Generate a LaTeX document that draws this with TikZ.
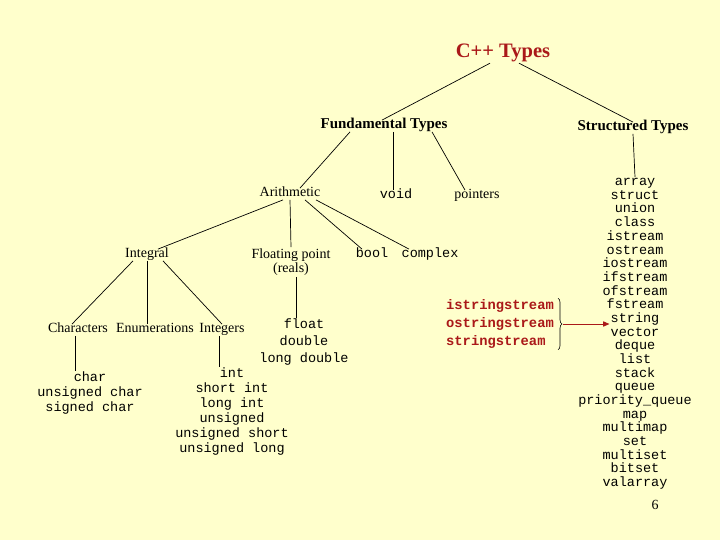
\documentclass[tikz,border=0pt]{standalone}
\usepackage{fontspec}
\setmainfont{Liberation Serif}
\setmonofont{Liberation Mono}
\usepackage{xcolor}
\usepackage{tikz}
\usetikzlibrary{arrows.meta,positioning,calc,decorations.pathreplacing}
\definecolor{ctbg}{RGB}{255,255,204}
\definecolor{ctred}{RGB}{170,25,25}
\tikzset{
  ctnode/.style={
    inner sep=1pt,
    align=center
  },
  ctone/.style={text height=1.6ex, text depth=0.45ex},
  cttitle/.style={ctnode, text=ctred, font=\fontsize{20.5}{22}\selectfont\bfseries},
  cthead/.style={ctnode, ctone, font=\fontsize{15}{17}\selectfont\bfseries},
  ctlabel/.style={ctnode, font=\fontsize{14}{14.5}\selectfont},
  ctcode/.style={ctnode, font=\fontsize{13.5}{15}\selectfont\ttfamily},
  ctstream/.style={ctnode, align=left, text=ctred, font=\fontsize{13.8}{18}\selectfont\ttfamily\bfseries},
  ctline/.style={line width=0.7pt, draw=black},
  ctarrow/.style={-{Triangle[length=2.2mm,width=1.8mm]}, line width=1pt, draw=ctred},
  ctbrace/.style={decorate, decoration={brace, amplitude=4pt}, line width=0.6pt, draw=black}
}
\begin{document}
\begin{tikzpicture}[x=1pt, y=-1pt]
\fill[ctbg] (0,0) rectangle (720,540);
\useasboundingbox (0,0) rectangle (720,540);
% top levels
\node[cttitle] (cpp) at (503,53) {C++ Types};
\node[cthead] (fund) at (384,126) {Fundamental Types};
\node[cthead] (struct) at (633,128) {Structured Types};
% fundamental
\node[ctlabel, ctone] (arith) at (290,194) {Arithmetic};
\node[ctcode, ctone] (void) at (396,196) {void};
\node[ctlabel, ctone] (ptr) at (477,196) {pointers};
\node[ctlabel, ctone] (integral) at (147,255) {Integral};
\node[ctlabel] (float) at (291,262) {Floating point\\(reals)};
\node[ctcode, ctone] (bool) at (372,255) {bool};
\node[ctcode, ctone] (cmplx) at (430,255) {complex};
\node[ctlabel, ctone] (chars) at (78,330) {Characters};
\node[ctlabel, ctone] (enums) at (155,330) {Enumerations};
\node[ctlabel, ctone] (ints) at (222,330) {Integers};
\node[ctcode, font=\fontsize{13.5}{17}\selectfont\ttfamily] (floatlist) at (304,342) {float\\double\\long double};
\node[ctcode] (charlist) at (90,393) {char\\unsigned char\\signed char};
\node[ctcode] (intlist) at (232,411.5) {int\\short int\\long int\\unsigned\\unsigned short\\unsigned long};
% structured
\foreach \t [count=\i] in {array,struct,union,class,istream,ostream,iostream,ifstream,ofstream,fstream,string,vector,deque,list,stack,queue,priority\_queue,map,multimap,set,multiset,bitset,valarray}
  \node[ctcode, ctone] (s\i) at (635,{183+13.68*(\i-1)}) {\t};
\node[ctstream] (sstream) at (500,324) {istringstream\\ostringstream\\stringstream};
\node[ctlabel] (page) at (655,505) {6};
% connectors
\draw[ctline] ([xshift=-13pt]cpp.south) -- ([xshift=-2pt]fund.north);
\draw[ctline] ([xshift=16pt]cpp.south) -- (struct.north);
\draw[ctline] ([xshift=-34pt]fund.south) -- ([xshift=10pt]arith.north);
\draw[ctline] ([xshift=-3pt]void.north |- fund.south) -- ([xshift=-3pt]void.north);
\draw[ctline] ([xshift=48pt]fund.south) -- ([xshift=-12pt]ptr.north);
\draw[ctline] (struct.south) -- (s1.north);
\draw[ctline] ([xshift=-7pt]arith.south) -- ([xshift=11pt]integral.north);
\draw[ctline] (arith.south) -- (float.north);
\draw[ctline] ([xshift=15pt]arith.south) -- ([xshift=-10pt]bool.north);
\draw[ctline] ([xshift=26pt]arith.south) -- ([xshift=-21pt]cmplx.north);
\draw[ctline] ([xshift=-14pt]integral.south) -- ([xshift=-6pt]chars.north);
\draw[ctline] (integral.south) -- (integral.south |- enums.north);
\draw[ctline] ([xshift=16pt]integral.south) -- (ints.north);
\draw[ctline] ([xshift=5pt]float.south) -- ([xshift=-8pt]floatlist.north);
\draw[ctline] ([xshift=-3pt]chars.south) -- ([xshift=-3pt]chars.south |- charlist.north);
\draw[ctline] ([xshift=-3pt]ints.south) -- ([xshift=-3pt]ints.south |- intlist.north);
\draw[ctbrace] ([xshift=3pt]sstream.north east) -- ([xshift=3pt]sstream.south east);
\coordinate (brtip) at ([xshift=8pt]sstream.east);
\draw[ctarrow] (brtip) -- (brtip -| s12.west);
\end{tikzpicture}
\end{document}
